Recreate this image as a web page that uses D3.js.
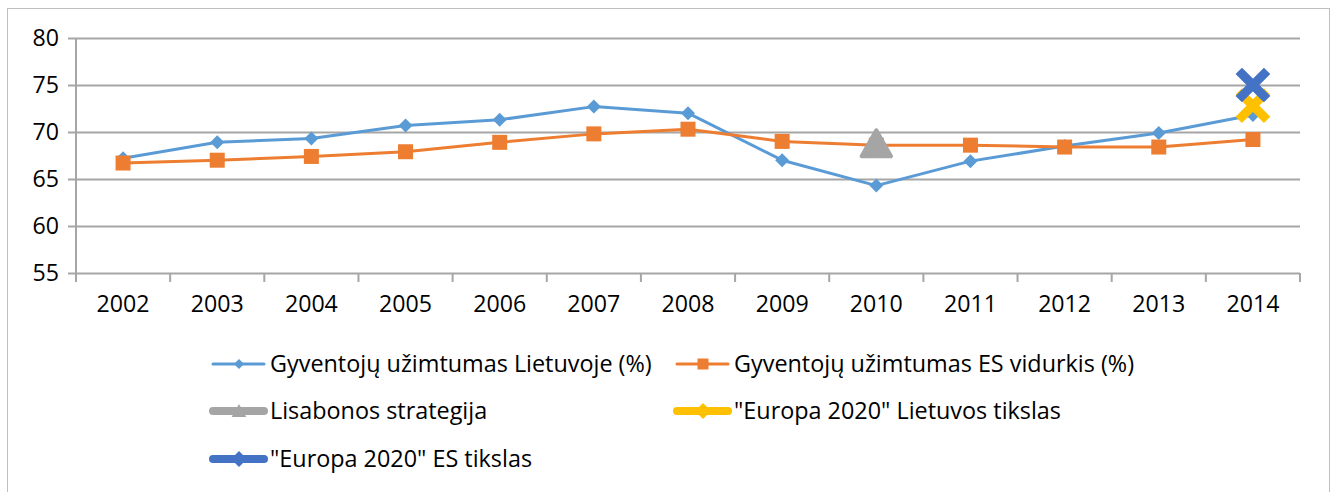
<!DOCTYPE html>
<html>
<head>
<meta charset="utf-8">
<script src="https://cdn.jsdelivr.net/npm/d3@7"></script>
<style>
  body { margin: 0; background: #fff; }
  svg { display: block; }
  text { font-family: "Open Sans", Lato, sans-serif; fill: #000; }
</style>
</head>
<body>
<div id="chart"></div>
<script>
// data
const years = ["2002", "2003", "2004", "2005", "2006", "2007", "2008", "2009", "2010", "2011", "2012", "2013", "2014"];
const lietuva = [67.2, 68.9, 69.3, 70.7, 71.3, 72.7, 72.0, 67.0, 64.3, 66.9, 68.5, 69.9, 71.8];
const esVidurkis = [66.7, 67.0, 67.4, 67.9, 68.9, 69.8, 70.3, 69.0, 68.6, 68.6, 68.4, 68.4, 69.2];
const lisabona = [{ year: "2010", value: 68.8 }];
const europaLt = [{ year: "2014", value: 72.8 }];
const europaEs = [{ year: "2014", value: 75 }];
const yTicks = [55, 60, 65, 70, 75, 80];

const W = 1338, H = 492;
const margin = { left: 76, right: 38, top: 38, bottom: 219 };

const svg = d3.select("#chart").append("svg")
    .attr("width", W)
    .attr("height", H);

// pick a font size that gives the given width for a sample string
function fitSize(sample, width) {
    const t = svg.append("text").style("font-size", "20px").text(sample);
    const w = t.node().getComputedTextLength();
    t.remove();
    return 20 * width / w;
}
const tickFont = fitSize("2002", 53);
const legendFont = fitSize("Gyventojų užimtumas Lietuvoje (%)", 382);

// outer chart border
svg.append("rect")
    .attr("x", 7.5).attr("y", 8.5)
    .attr("width", 1322).attr("height", 500)
    .attr("fill", "none")
    .attr("stroke", "#bfbfbf");

const x = d3.scaleBand()
    .domain(years)
    .range([margin.left, W - margin.right]);

const y = d3.scaleLinear()
    .domain([55, 80])
    .range([273, 38]);

const cx = d => x(d) + x.bandwidth() / 2;

// gridlines + y axis
const yAxis = d3.axisLeft(y)
    .tickValues(yTicks)
    .tickSize(-(W - margin.right - margin.left))
    .tickPadding(17);

const gy = svg.append("g")
    .attr("transform", `translate(${margin.left},0)`)
    .call(yAxis);
gy.select(".domain").remove();
gy.selectAll(".tick line")
    .attr("x1", -8)
    .attr("stroke", "#a6a6a6")
    .attr("stroke-width", 2);
gy.selectAll(".tick text")
    .style("font-size", tickFont + "px");

// x axis
const xAxis = d3.axisBottom(x).tickSize(0).tickPadding(23);
const gx = svg.append("g")
    .attr("transform", `translate(0,${y(55)})`)
    .call(xAxis);
gx.select(".domain").remove();
gx.selectAll(".tick text").style("font-size", tickFont + "px");

// category separators on x axis
const edges = years.map(d => x(d)).concat([x(years[years.length - 1]) + x.bandwidth()]);
svg.append("g").selectAll("line")
    .data(edges)
    .enter().append("line")
    .attr("x1", d => d).attr("x2", d => d)
    .attr("y1", y(55)).attr("y2", y(55) + 9)
    .attr("stroke", "#a6a6a6")
    .attr("stroke-width", 2);

// vertical axis line
svg.append("line")
    .attr("x1", margin.left).attr("x2", margin.left)
    .attr("y1", y(80)).attr("y2", y(55) + 9)
    .attr("stroke", "#a6a6a6")
    .attr("stroke-width", 2);

// marker shapes
function diamond(s) { return `M0,${-s}L${s},0L0,${s}L${-s},0Z`; }
function square(s) { return `M${-s},${-s}H${s}V${s}H${-s}Z`; }
function triangle(s) { return `M0,${-s}L${s * 1.05},${s * 0.85}L${-s * 1.05},${s * 0.85}Z`; }
function cross(s) { return `M${-s},${-s}L${s},${s}M${s},${-s}L${-s},${s}`; }

const line = d3.line()
    .x((d, i) => cx(years[i]))
    .y(d => y(d));

function drawSeries(values, color, marker, size) {
    svg.append("path")
        .datum(values)
        .attr("fill", "none")
        .attr("stroke", color)
        .attr("stroke-width", 3)
        .attr("stroke-linejoin", "round")
        .attr("stroke-linecap", "round")
        .attr("d", line);
    svg.append("g").selectAll("path")
        .data(values)
        .enter().append("path")
        .attr("transform", (d, i) => `translate(${cx(years[i])},${y(d)})`)
        .attr("d", marker(size))
        .attr("fill", color);
}

drawSeries(lietuva, "#5b9bd5", diamond, 7);
drawSeries(esVidurkis, "#ed7d31", square, 7.5);

// single-point targets
svg.append("g").selectAll("path")
    .data(lisabona)
    .enter().append("path")
    .attr("transform", d => `translate(${cx(d.year)},${y(d.value) + 1})`)
    .attr("d", triangle(14))
    .attr("fill", "#a5a5a5")
    .attr("stroke", "#a5a5a5")
    .attr("stroke-width", 4)
    .attr("stroke-linejoin", "round");

function drawCross(data, color) {
    svg.append("g").selectAll("path")
        .data(data)
        .enter().append("path")
        .attr("transform", d => `translate(${cx(d.year)},${y(d.value)})`)
        .attr("d", cross(11))
        .attr("fill", "none")
        .attr("stroke", color)
        .attr("stroke-width", 9)
        .attr("stroke-linecap", "square");
}
drawCross(europaLt, "#ffc000");
drawCross(europaEs, "#4472c4");

// legend
const legendItems = [
    { name: "Gyventojų užimtumas Lietuvoje (%)", color: "#5b9bd5", w: 3, marker: diamond, ms: 5, col: 0, row: 0 },
    { name: "Gyventojų užimtumas ES vidurkis (%)", color: "#ed7d31", w: 3, marker: square, ms: 5.5, col: 1, row: 0 },
    { name: "Lisabonos strategija", color: "#a5a5a5", w: 8, marker: triangle, ms: 7, col: 0, row: 1 },
    { name: "\"Europa 2020\" Lietuvos tikslas", color: "#ffc000", w: 8, marker: diamond, ms: 8, col: 1, row: 1 },
    { name: "\"Europa 2020\" ES tikslas", color: "#4472c4", w: 8, marker: diamond, ms: 8, col: 0, row: 2 }
];
const colX = [211, 675];
const rowY = [364, 411, 459];

const lg = svg.append("g").selectAll("g")
    .data(legendItems)
    .enter().append("g")
    .attr("transform", d => `translate(${colX[d.col]},${rowY[d.row]})`);

lg.append("line")
    .attr("x1", 2).attr("x2", 53)
    .attr("stroke", d => d.color)
    .attr("stroke-width", d => d.w)
    .attr("stroke-linecap", "round");
lg.append("path")
    .attr("transform", "translate(28,0)")
    .attr("d", d => d.marker(d.ms))
    .attr("fill", d => d.color);
lg.append("text")
    .attr("x", 59)
    .attr("dy", "0.35em")
    .style("font-size", legendFont + "px")
    .text(d => d.name);
</script>
</body>
</html>
